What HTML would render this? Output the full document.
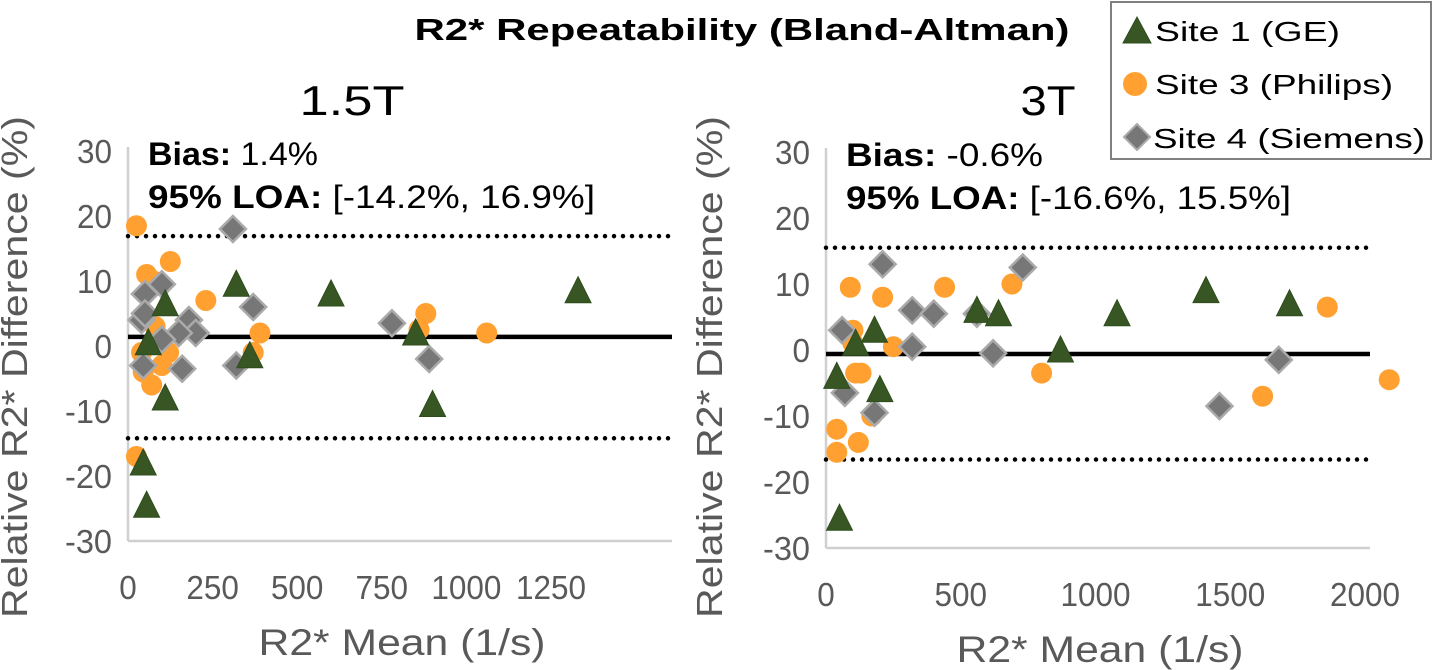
<!DOCTYPE html>
<html><head><meta charset="utf-8"><style>
body{margin:0;background:#fff;font-family:"Liberation Sans",sans-serif}
svg{display:block}
</style></head><body>
<svg id="c" width="1438" height="670" font-family="Liberation Sans, sans-serif">
<text x="742" y="40" font-size="31" font-weight="bold" text-anchor="middle" textLength="655" lengthAdjust="spacingAndGlyphs">R2* Repeatability (Bland-Altman)</text>
<text x="352" y="115" font-size="42" text-anchor="middle" textLength="105" lengthAdjust="spacingAndGlyphs">1.5T</text>
<text x="1048" y="115" font-size="42" text-anchor="middle" textLength="55" lengthAdjust="spacingAndGlyphs">3T</text>
<g id="legend">
<rect x="1111" y="2" width="320" height="157" fill="#fff" stroke="#808080" stroke-width="2"/>
<polygon points="1123,43 1137,17 1151,43" fill="#375623" stroke="#2f4d1d"/>
<text x="1155" y="41" font-size="28" textLength="185" lengthAdjust="spacingAndGlyphs">Site 1 (GE)</text>
<circle cx="1135" cy="84" r="12" fill="#ffa030"/>
<text x="1155" y="94" font-size="28" textLength="238" lengthAdjust="spacingAndGlyphs">Site 3 (Philips)</text>
<polygon points="1137,124 1150,137 1137,150 1124,137" fill="#777" stroke="#aaa" stroke-width="2"/>
<text x="1153" y="148" font-size="28" textLength="272" lengthAdjust="spacingAndGlyphs">Site 4 (Siemens)</text>
</g>
</svg>
<script>
const ticksY=[30,20,10,0,-10,-20,-30];
const ticksX1=[0,250,500,750,1000,1250];
const ticksX2=[0,500,1000,1500,2000];
const stats1=[1.4,-14.2,16.9];
const stats2=[-0.6,-16.6,15.5];
const ge1x=[1330,600,320,110,60,360,850,900,110,45,55];
const ge1y=[8.5,8,9.5,6.5,0.5,-1.5,2,-9,-8,-18,-24.5];
const ph1x=[25,55,75,125,230,390,880,860,1060,40,45,70,100,120,370,25,80,50];
const ph1y=[18.5,11,10,13,7,2,5,2.5,2,-1,-4,-6,-3,-1,-1,-17,3,5];
const si1x=[310,50,100,40,180,370,200,150,100,45,160,320,780,890,50];
const si1y=[18,8,9.5,4,4,6,2,2,1,-3,-3.5,-3,3.5,-2,5];
const ge2x=[1410,1720,1080,560,640,870,180,110,40,200,50];
const ge2y=[9,7,5.5,6,5.5,0,3,1,-4,-6,-25.5];
const ph2x=[90,210,440,690,100,250,110,130,800,1620,2090,1860,40,40,120,170,100];
const ph2y=[9.5,8,9.5,10,3,0.5,-3.5,-3.5,-3.5,-7,-4.5,6.5,-12,-15.5,-14,-10,1];
const si2x=[210,730,320,400,60,320,620,1680,1460,70,180,560];
const si2y=[13,12.5,6,5.5,3,0.5,-0.5,-1.5,-8.5,-6.5,-9.5,5.5];
const NS="http://www.w3.org/2000/svg";
const svg=document.getElementById('c');
function mk(t,a,p){const e=document.createElementNS(NS,t);for(const k in a)e.setAttribute(k,a[k]);(p||svg).appendChild(e);return e;}
function tw(s){s=String(s);let w=0;for(const ch of s)w+=(ch=='-'?12:17.5);return w;}
function panel(id,x0,xs,xmax,y0,ys,tx,st,ge,gey,ph,phy,si,siy,ylabX,w1,w2){
 const X=v=>x0+v*xs, Y=v=>y0-v*ys;
 const g=mk('g',{});
 
 
 const ax=mk('line',{x1:x0,y1:Y(30)-4,x2:x0,y2:Y(-30),stroke:'#d0d0d0','stroke-width':2.5},g);
 
 
 const bx=mk('line',{x1:x0,y1:Y(-30),x2:xmax,y2:Y(-30),stroke:'#d0d0d0','stroke-width':2.5},g);
 
 
 ticksY.forEach(v=>{const t=mk('text',{x:x0-16,y:Y(v)+12,'font-size':33,fill:'#595959','text-anchor':'end',textLength:tw(v),lengthAdjust:'spacingAndGlyphs'},g);t.textContent=v;
  
  });
 tx.forEach(v=>{const t=mk('text',{x:X(v),y:Y(-30)+58,'font-size':33,fill:'#595959','text-anchor':'middle',textLength:tw(v),lengthAdjust:'spacingAndGlyphs'},g);t.textContent=v;
  
  });
 const xt=mk('text',{x:(x0+xmax)/2+2,y:Y(-30)+114,'font-size':37,fill:'#595959','text-anchor':'middle',textLength:287,lengthAdjust:'spacingAndGlyphs'},g);xt.textContent='R2* Mean (1/s)';
 
 
 const yt=mk('text',{x:0,y:0,'font-size':36,fill:'#595959','text-anchor':'middle',textLength:502,lengthAdjust:'spacingAndGlyphs',transform:`translate(${ylabX},367) rotate(-90)`},g);yt.textContent='Relative R2* Difference (%)';
 
 
 [1,2].forEach(i=>{const l=mk('line',{x1:x0,x2:xmax,y1:Y(st[i]),y2:Y(st[i]),stroke:'#000','stroke-width':4.5,'stroke-dasharray':'0 9','stroke-linecap':'round'},g);
  
  });
 const b=mk('line',{x1:x0,x2:xmax,y1:Y(st[0]),y2:Y(st[0]),stroke:'#000','stroke-width':4.5},g);
 
 
 ph.forEach((v,i)=>{const c=mk('circle',{cx:X(v),cy:Y(phy[i]),r:10.5,fill:'#ffa030'},g);
  
  });
 si.forEach((v,i)=>{const cx=X(v),cy=Y(siy[i]);const p=mk('polygon',{points:`${cx},${cy-13} ${cx+13},${cy} ${cx},${cy+13} ${cx-13},${cy}`,fill:'#777',stroke:'#aaa','stroke-width':2.5},g);
  
  });
 ge.forEach((v,i)=>{const cx=X(v),cy=Y(gey[i]);const p=mk('polygon',{points:`${cx-13},${cy+12} ${cx},${cy-14} ${cx+13},${cy+12}`,fill:'#375623',stroke:'#2f4d1d'},g);
  
  });
 const t1=mk('text',{x:x0+20,y:Y(30)+14,'font-size':32,textLength:w1,lengthAdjust:'spacingAndGlyphs'},g);
 t1.innerHTML=`<tspan font-weight="bold">Bias:</tspan> ${st[0].toFixed(1)}%`;
 
 
 const t2=mk('text',{x:x0+20,y:Y(30)+57,'font-size':32,textLength:w2,lengthAdjust:'spacingAndGlyphs'},g);
 t2.innerHTML=`<tspan font-weight="bold">95% LOA:</tspan> [${st[1].toFixed(1)}%, ${st[2].toFixed(1)}%]`;
 
 
}
panel('panel-1-5t',128,0.3384,672,346,6.5,ticksX1,stats1,ge1x,ge1y,ph1x,ph1y,si1x,si1y,27,170,447);
panel('panel-3t',826,0.2695,1370,350,6.6,ticksX2,stats2,ge2x,ge2y,ph2x,ph2y,si2x,si2y,722,197,445);
svg.appendChild(document.getElementById('legend'));
</script>
</body></html>
